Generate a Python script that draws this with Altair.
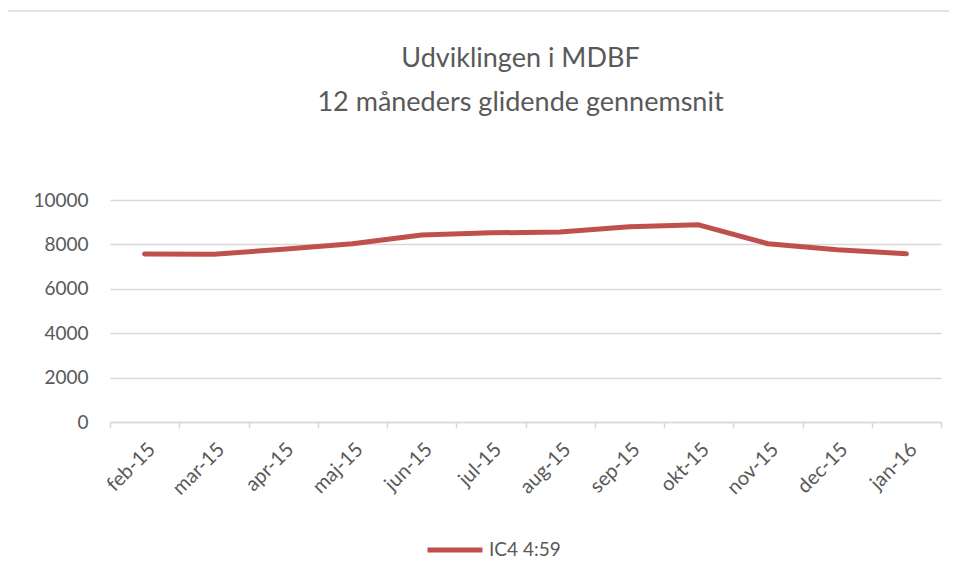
import altair as alt
import pandas as pd

months = ["feb-15", "mar-15", "apr-15", "maj-15", "jun-15", "jul-15",
          "aug-15", "sep-15", "okt-15", "nov-15", "dec-15", "jan-16"]
values = [7570, 7560, 7780, 8030, 8420, 8520, 8560, 8800, 8880, 8030, 7760, 7580]
series_name = "IC4 4:59"
y_ticks = [0, 2000, 4000, 6000, 8000, 10000]
title_lines = ["Udviklingen i MDBF", "12 måneders glidende gennemsnit"]

df = pd.DataFrame({"month": months, "value": values, "series": [series_name] * len(months)})
one = pd.DataFrame({"a": [0]})

W, H = 831, 222
GRAY = "#595959"
FONT = "Lato"

border = alt.Chart(one).mark_rect(
    fill="transparent", stroke="#d9d9d9", strokeWidth=1.5
).encode(
    x=alt.value(-103), x2=alt.value(W + 40),
    y=alt.value(-189), y2=alt.value(H + 200),
)

title1 = alt.Chart(one).mark_text(
    font=FONT, fontSize=27, color=GRAY, align="center", baseline="alphabetic"
).encode(x=alt.value(W / 2 - 5), y=alt.value(-133), text=alt.value(title_lines[0]))

title2 = alt.Chart(one).mark_text(
    font=FONT, fontSize=27, color=GRAY, align="center", baseline="alphabetic"
).encode(x=alt.value(W / 2 - 5), y=alt.value(-89), text=alt.value(title_lines[1]))

line = alt.Chart(df).mark_line(strokeWidth=5, strokeCap="round", strokeJoin="round").encode(
    x=alt.X("month:N", sort=months, title=None,
            scale=alt.Scale(type="band", paddingInner=0, paddingOuter=0),
            axis=alt.Axis(labelAngle=-45, labelAlign="right", labelBaseline="top",
                          labelPadding=11, labelFontSize=20, labelColor=GRAY, labelFont=FONT,
                          domainColor="#d9d9d9", domainWidth=1.5, tickColor="#d9d9d9",
                          tickWidth=1.5, tickSize=6, tickBand="extent", grid=False)),
    y=alt.Y("value:Q", title=None,
            scale=alt.Scale(domain=[0, 10000], nice=False),
            axis=alt.Axis(values=y_ticks, format="d", labelFontSize=19, labelColor=GRAY,
                          labelFont=FONT, labelPadding=22, domain=False, ticks=False,
                          grid=True, gridColor="#d9d9d9", gridWidth=1.5)),
    color=alt.Color("series:N", scale=alt.Scale(range=["#c0504d"]),
                    legend=alt.Legend(title=None, orient="none", legendX=315, legendY=320,
                                      symbolType="stroke", symbolSize=3025,
                                      symbolStrokeWidth=5, labelFontSize=19,
                                      labelColor=GRAY, labelFont=FONT, labelOffset=4,
                                      padding=0)),
)

chart = alt.layer(border, title1, title2, line).properties(
    width=W, height=H,
    padding={"left": 102, "top": 192, "right": 8, "bottom": 140},
    autosize=alt.AutoSizeParams(type="none"),
).configure_view(stroke=None)

chart.save("out.html", embed_options={"renderer": "svg", "actions": False})
